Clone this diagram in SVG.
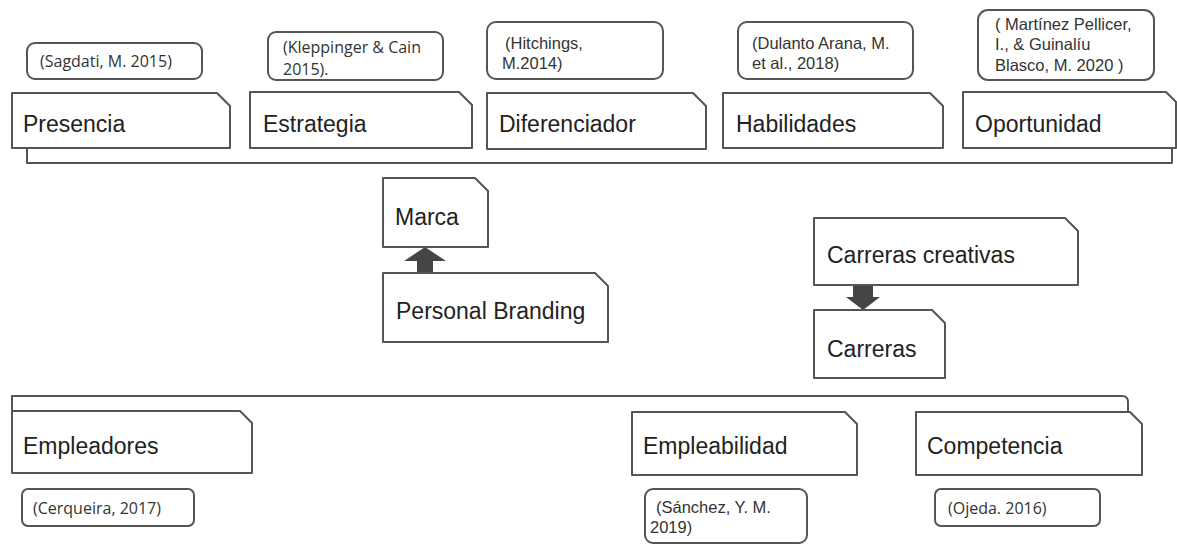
<svg xmlns="http://www.w3.org/2000/svg" width="1177" height="545" viewBox="0 0 1177 545">
<style>
.box{fill:#fff;stroke:#555;stroke-width:2;stroke-linejoin:round}
.frame{fill:none;stroke:#555;stroke-width:2;stroke-linejoin:round}
.cite{fill:#fff;stroke:#555;stroke-width:2}
.lbl{font-family:"Liberation Sans",Arial,sans-serif;font-size:23px;fill:#222}
.ca{font-family:"Liberation Sans",Arial,sans-serif;font-size:16.5px;fill:#333}
.co{font-family:"Open Sans","Liberation Sans",sans-serif;font-size:16px;fill:#333}
.arrow{fill:#454545}
</style>
<rect width="1177" height="545" fill="#fff"/>
<g id="frames">
<path class="frame" d="M27,148 V163 H1172 V148"/>
<path class="frame" d="M12,411 V396 H1122 Q1128,396 1128,402 V412"/>
</g>
<g id="connectors">
<polygon class="arrow" points="417,273 433,273 433,261 446,261 425,247 404,261 417,261"/>
<polygon class="arrow" points="853,285 873,285 873,297 880,297 863,310 846,297 853,297"/>
</g>
<g id="node-presencia">
<path class="box" d="M12,93 H217 L230,106 V148 H12 Z"/>
<text class="lbl" x="23" y="132">Presencia</text>
</g>
<g id="cite-sagdati">
<rect class="cite" x="27" y="43" width="175" height="36" rx="8"/>
<text class="co" x="40" y="67">(Sagdati, M. 2015)</text>
</g>
<g id="node-estrategia">
<path class="box" d="M250,92 H459 L472,105 V148 H250 Z"/>
<text class="lbl" x="263" y="132">Estrategia</text>
</g>
<g id="cite-kleppinger">
<rect class="cite" x="268" y="32" width="175" height="48" rx="8"/>
<text class="co" x="283" y="53">(Kleppinger &amp; Cain</text>
<text class="co" x="283" y="75">2015).</text>
</g>
<g id="node-diferenciador">
<path class="box" d="M487,93 H693 L706,106 V149 H487 Z"/>
<text class="lbl" x="499" y="132">Diferenciador</text>
</g>
<g id="cite-hitchings">
<rect class="cite" x="487" y="22" width="176" height="57" rx="9"/>
<text class="ca" x="505" y="49">(Hitchings,</text>
<text class="ca" x="502" y="69">M.2014)</text>
</g>
<g id="node-habilidades">
<path class="box" d="M723,93 H930 L943,106 V148 H723 Z"/>
<text class="lbl" x="736" y="132">Habilidades</text>
</g>
<g id="cite-dulanto">
<rect class="cite" x="738" y="22" width="175" height="57" rx="9"/>
<text class="ca" x="752" y="49">(Dulanto Arana, M.</text>
<text class="ca" x="752" y="69">et al., 2018)</text>
</g>
<g id="node-oportunidad">
<path class="box" d="M963,92 H1166 L1176,102 V148 H963 Z"/>
<text class="lbl" x="975" y="132">Oportunidad</text>
</g>
<g id="cite-martinez">
<rect class="cite" x="978" y="10" width="176" height="70" rx="10"/>
<text class="ca" x="995" y="30">( Martínez Pellicer,</text>
<text class="ca" x="995" y="50">I., &amp; Guinalíu</text>
<text class="ca" x="995" y="71">Blasco, M. 2020 )</text>
</g>
<g id="node-marca">
<path class="box" d="M383,178 H475 L488,191 V247 H383 Z"/>
<text class="lbl" x="395" y="225">Marca</text>
</g>
<g id="node-personal-branding">
<path class="box" d="M383,273 H595 L608,286 V342 H383 Z"/>
<text class="lbl" x="396" y="319">Personal Branding</text>
</g>
<g id="node-carreras-creativas">
<path class="box" d="M814,218 H1065 L1078,231 V285 H814 Z"/>
<text class="lbl" x="827" y="263">Carreras creativas</text>
</g>
<g id="node-carreras">
<path class="box" d="M814,310 H932 L945,323 V378 H814 Z"/>
<text class="lbl" x="827" y="357">Carreras</text>
</g>
<g id="node-empleadores">
<path class="box" d="M12,411 H240 L252,423 V473 H12 Z"/>
<text class="lbl" x="23" y="454">Empleadores</text>
</g>
<g id="cite-cerqueira">
<rect class="cite" x="22" y="489" width="172" height="37" rx="6"/>
<text class="co" x="33" y="514">(Cerqueira, 2017)</text>
</g>
<g id="node-empleabilidad">
<path class="box" d="M632,412 H845 L857,424 V475 H632 Z"/>
<text class="lbl" x="643" y="454">Empleabilidad</text>
</g>
<g id="cite-sanchez">
<rect class="cite" x="645" y="489" width="162" height="54" rx="8"/>
<text class="ca" x="656" y="513">(Sánchez, Y. M.</text>
<text class="ca" x="650" y="533">2019)</text>
</g>
<g id="node-competencia">
<path class="box" d="M916,412 H1130 L1142,424 V475 H916 Z"/>
<text class="lbl" x="927" y="454">Competencia</text>
</g>
<g id="cite-ojeda">
<rect class="cite" x="935" y="489" width="165" height="37" rx="6"/>
<text class="co" x="948" y="514">(Ojeda. 2016)</text>
</g>
</svg>
